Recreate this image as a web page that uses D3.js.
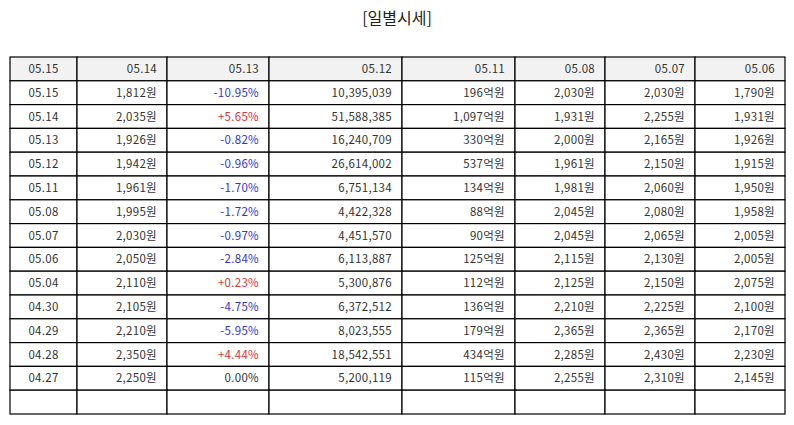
<!DOCTYPE html>
<html>
<head>
<meta charset="utf-8">
<script src="https://cdn.jsdelivr.net/npm/d3@7"></script>
<style>
  body { margin: 0; background: #fff; }
  svg { display: block; font-family: "Noto Sans CJK KR", "Noto Sans", sans-serif; }
</style>
</head>
<body>
<div id="chart"></div>
<script>
// ---------- data ----------
var headers = ["05.15", "05.14", "05.13", "05.12", "05.11", "05.08", "05.07", "05.06"];
var dates   = ["05.15", "05.14", "05.13", "05.12", "05.11", "05.08", "05.07", "05.06", "05.04", "04.30", "04.29", "04.28", "04.27"];
var closes  = [1812, 2035, 1926, 1942, 1961, 1995, 2030, 2050, 2110, 2105, 2210, 2350, 2250];
var changes = [-10.95, 5.65, -0.82, -0.96, -1.70, -1.72, -0.97, -2.84, 0.23, -4.75, -5.95, 4.44, 0.00];
var volumes = [10395039, 51588385, 16240709, 26614002, 6751134, 4422328, 4451570, 6113887, 5300876, 6372512, 8023555, 18542551, 5200119];
var amounts = [196, 1097, 330, 537, 134, 88, 90, 125, 112, 136, 179, 434, 115];   // 억원
var opens   = [2030, 1931, 2000, 1961, 1981, 2045, 2045, 2115, 2125, 2210, 2365, 2285, 2255];
var highs   = [2030, 2255, 2165, 2150, 2060, 2080, 2065, 2130, 2150, 2225, 2365, 2430, 2310];
var lows    = [1790, 1931, 1926, 1915, 1950, 1958, 2005, 2005, 2075, 2100, 2170, 2230, 2145];
var colWidths = [67, 90, 102, 133, 113, 90, 90, 90];

// ---------- setup ----------
var W = 794, H = 425;
var margin = {left: 10, top: 57, right: 9, bottom: 11};

var svg = d3.select("#chart").append("svg")
    .attr("width", W).attr("height", H);

svg.append("text")
    .attr("x", W / 2).attr("y", 24)
    .attr("text-anchor", "middle")
    .style("font-size", "16px")
    .attr("fill", "#222")
    .text("[일별시세]");

var fmt = d3.format(",");
var rows = dates.map(function(d, i) {
  var c = changes[i];
  var cTxt = (c > 0 ? "+" : "") + c.toFixed(2) + "%";
  return [
    {t: d},
    {t: fmt(closes[i]) + "원"},
    {t: cTxt, color: c > 0 ? "#e0323c" : (c < 0 ? "#3434d0" : null)},
    {t: fmt(volumes[i])},
    {t: fmt(amounts[i]) + "억원"},
    {t: fmt(opens[i]) + "원"},
    {t: fmt(highs[i]) + "원"},
    {t: fmt(lows[i]) + "원"}
  ];
});
var table = [headers.map(function(h) { return {t: h}; })].concat(rows).concat([headers.map(function() { return {t: ""}; })]);

// column edges
var edges = [0];
colWidths.forEach(function(w, i) { edges.push(edges[i] + w); });
var x = d3.scaleLinear().domain([0, edges[edges.length - 1]]).range([margin.left, W - margin.right]);
var y = d3.scaleBand().domain(d3.range(table.length)).range([margin.top, H - margin.bottom]);

var rowG = svg.append("g").selectAll("g")
  .data(table).enter().append("g")
    .attr("transform", function(d, i) { return "translate(0," + y(i) + ")"; });

rowG.selectAll("rect")
  .data(function(d, i) { return d.map(function(c) { return {c: c, r: i}; }); })
  .enter().append("rect")
    .attr("x", function(d, j) { return x(edges[j]); })
    .attr("width", function(d, j) { return x(edges[j + 1]) - x(edges[j]); })
    .attr("y", 0)
    .attr("height", y.bandwidth())
    .attr("fill", function(d) { return d.r === 0 ? "#f2f2f2" : "#fff"; })
    .attr("stroke", "#000")
    .attr("stroke-width", 1.2);

rowG.selectAll("text")
  .data(function(d) { return d; })
  .enter().append("text")
    .attr("x", function(d, j) { return j === 0 ? (x(edges[0]) + x(edges[1])) / 2 : x(edges[j + 1]) - 10; })
    .attr("y", y.bandwidth() / 2)
    .attr("dy", "0.35em")
    .attr("text-anchor", function(d, j) { return j === 0 ? "middle" : "end"; })
    .style("font-size", "11.5px")
    .style("letter-spacing", "0.3px")
    .attr("fill", function(d) { return d.color || "#333"; })
    .text(function(d) { return d.t; });
</script>
</body>
</html>
